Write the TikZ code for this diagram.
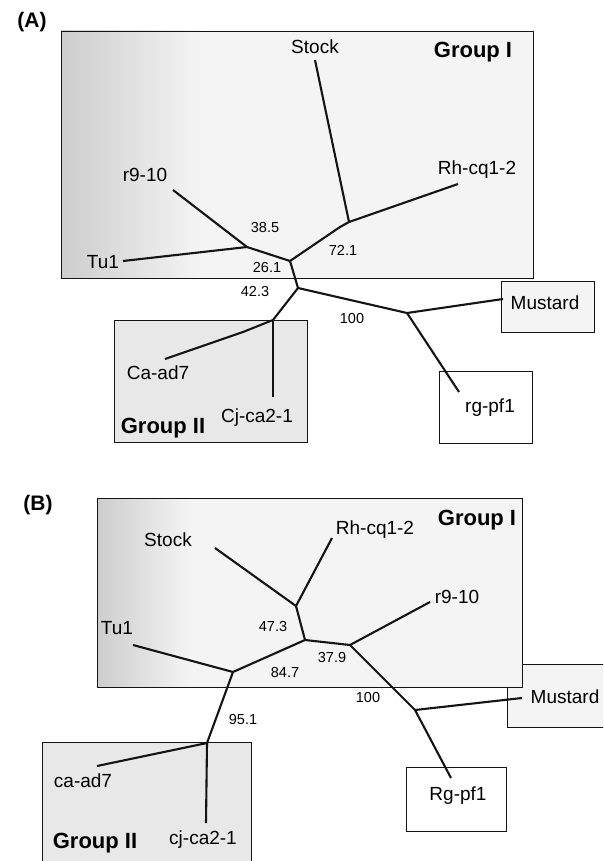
\documentclass[tikz,border=0pt]{standalone}
\usepackage{fontspec}
\setmainfont{Liberation Sans}
\definecolor{treecolor0000}{RGB}{20,20,20}
\definecolor{treecolor0001}{RGB}{232,232,232}
\definecolor{treecolor0002}{RGB}{205,205,205}
\definecolor{treecolor0003}{RGB}{244,244,244}
\begin{document}
\begin{tikzpicture}[yscale=-1
,pstyle0/.style={color=treecolor0000,line width=2.1pt,line join=round}
,pstyle1/.style={draw=treecolor0000,line width=0.9pt}
,pstyle2/.style={draw=treecolor0000,fill=treecolor0001,line width=0.9pt}
,pstyle3/.style={draw=treecolor0000,fill=treecolor0003,line width=0.9pt}
,pstyle4/.style={draw=treecolor0000,fill=white,line width=0.9pt}
,taxon/.style={inner sep=0pt,color=black,font=\fontsize{19}{22}\selectfont}
,support/.style={inner sep=0pt,color=black,font=\fontsize{14.5}{17}\selectfont}
,grouplabel/.style={inner sep=0pt,color=black,font=\fontsize{22}{26}\selectfont\bfseries}
,panel/.style={inner sep=0pt,color=black,font=\fontsize{21}{25}\selectfont\bfseries}
]
\useasboundingbox (0pt,0pt) rectangle (603pt,861pt);
\clip (0pt,0pt) rectangle (603pt,861pt);
% panel A: boxes
\fill[treecolor0003] (61pt,31pt) rectangle (533pt,278pt);
\shade[left color=treecolor0002,right color=treecolor0003] (61pt,31pt) rectangle (200pt,278pt);
\draw[pstyle1] (61pt,31pt) rectangle (533pt,278pt);
\draw[pstyle2] (114pt,320pt) rectangle (307pt,442pt);
\draw[pstyle3] (501pt,281pt) rectangle (594pt,332pt);
\draw[pstyle4] (439pt,371pt) rectangle (532pt,443pt);
\node[panel] (panelA) at (32pt,22pt) {(A)};
\node[grouplabel] (aGroupI) at (473pt,52pt) {Group I};
\node[grouplabel] (aGroupII) at (163pt,428pt) {Group II};
% panel A: tree
\coordinate (an1) at (349pt,222pt);
\coordinate (an1bend) at (340pt,227pt);
\coordinate (an2) at (247pt,247pt);
\coordinate (an3) at (290pt,261pt);
\coordinate (an4) at (298pt,288pt);
\coordinate (an5) at (407pt,313pt);
\coordinate (an6) at (273pt,320pt);
\coordinate (aStockEnd) at (315pt,60pt);
\coordinate (aRhEnd) at (458pt,184pt);
\coordinate (aR9End) at (173pt,190pt);
\coordinate (aTuEnd) at (123pt,261pt);
\coordinate (aMusEnd) at (503pt,299pt);
\coordinate (aRgEnd) at (459pt,392pt);
\coordinate (aCaBend) at (243pt,332pt);
\coordinate (aCaEnd) at (165pt,359pt);
\coordinate (aCjEnd) at (273pt,397pt);
\node[taxon] (aStock) at (315pt,47pt) {Stock};
\node[taxon] (aRh) at (477pt,170pt) {Rh-cq1-2};
\node[taxon] (aR9) at (145pt,175pt) {r9-10};
\node[taxon] (aTu) at (103pt,262pt) {Tu1};
\node[taxon] (aMus) at (545pt,303pt) {Mustard};
\node[taxon] (aRg) at (490pt,408pt) {rg-pf1};
\node[taxon] (aCa) at (158pt,373pt) {Ca-ad7};
\node[taxon] (aCj) at (257pt,418pt) {Cj-ca2-1};
\draw[pstyle0] (aStockEnd) -- (an1);
\draw[pstyle0] (aRhEnd) -- (an1);
\draw[pstyle0] (an1) -- (an1bend) -- (an3);
\draw[pstyle0] (aR9End) -- (an2);
\draw[pstyle0] (aTuEnd) -- (an2);
\draw[pstyle0] (an2) -- (an3);
\draw[pstyle0] (an3) -- (an4);
\draw[pstyle0] (an4) -- (an5);
\draw[pstyle0] (an5) -- (aMusEnd);
\draw[pstyle0] (an5) -- (aRgEnd);
\draw[pstyle0] (an4) -- (an6);
\draw[pstyle0] (an6) -- (aCaBend) -- (aCaEnd);
\draw[pstyle0] (an6) -- (aCjEnd);
\node[support] (aV385) at (265pt,228pt) {38.5};
\node[support] (aV721) at (343pt,250pt) {72.1};
\node[support] (aV261) at (267pt,268pt) {26.1};
\node[support] (aV423) at (255pt,292pt) {42.3};
\node[support] (aV100) at (352pt,319pt) {100};
% panel B: boxes
\draw[pstyle3] (507pt,664pt) rectangle (615pt,727pt);
\fill[treecolor0003] (97pt,498pt) rectangle (522pt,687pt);
\shade[left color=treecolor0002,right color=treecolor0003] (97pt,498pt) rectangle (190pt,687pt);
\draw[pstyle1] (97pt,498pt) rectangle (522pt,687pt);
\draw[pstyle2] (42pt,742pt) rectangle (251pt,875pt);
\draw[pstyle4] (406pt,767pt) rectangle (506pt,831pt);
\node[panel] (panelB) at (38pt,505pt) {(B)};
\node[grouplabel] (bGroupI) at (477pt,520pt) {Group I};
\node[grouplabel] (bGroupII) at (95pt,843pt) {Group II};
% panel B: tree
\coordinate (bn1) at (296pt,606pt);
\coordinate (bn2) at (233pt,672pt);
\coordinate (bn3) at (305pt,640pt);
\coordinate (bn4) at (350pt,645pt);
\coordinate (bn5) at (415pt,710pt);
\coordinate (bn6) at (207pt,743pt);
\coordinate (bStockEnd) at (215pt,548pt);
\coordinate (bRhEnd) at (332pt,538pt);
\coordinate (bTuEnd) at (133pt,645pt);
\coordinate (bR9End) at (430pt,602pt);
\coordinate (bMusEnd) at (522pt,698pt);
\coordinate (bRgEnd) at (451pt,778pt);
\coordinate (bCaEnd) at (97pt,766pt);
\coordinate (bCjEnd) at (206pt,823pt);
\node[taxon] (bStock) at (168pt,540pt) {Stock};
\node[taxon] (bRh) at (375pt,530pt) {Rh-cq1-2};
\node[taxon] (bTu) at (117pt,628pt) {Tu1};
\node[taxon] (bR9) at (457pt,597pt) {r9-10};
\node[taxon] (bMus) at (565pt,697pt) {Mustard};
\node[taxon] (bRg) at (458pt,796pt) {Rg-pf1};
\node[taxon] (bCa) at (83pt,781pt) {ca-ad7};
\node[taxon] (bCj) at (203pt,840pt) {cj-ca2-1};
\draw[pstyle0] (bStockEnd) -- (bn1);
\draw[pstyle0] (bRhEnd) -- (bn1);
\draw[pstyle0] (bn1) -- (bn3);
\draw[pstyle0] (bTuEnd) -- (bn2);
\draw[pstyle0] (bn2) -- (bn3);
\draw[pstyle0] (bn3) -- (bn4);
\draw[pstyle0] (bn4) -- (bR9End);
\draw[pstyle0] (bn4) -- (bn5);
\draw[pstyle0] (bn5) -- (bMusEnd);
\draw[pstyle0] (bn5) -- (bRgEnd);
\draw[pstyle0] (bn2) -- (bn6);
\draw[pstyle0] (bn6) -- (bCaEnd);
\draw[pstyle0] (bn6) -- (bCjEnd);
\node[support] (bV473) at (273pt,627pt) {47.3};
\node[support] (bV379) at (332pt,658pt) {37.9};
\node[support] (bV847) at (285pt,673pt) {84.7};
\node[support] (bV100) at (368pt,697pt) {100};
\node[support] (bV951) at (243pt,719pt) {95.1};
\end{tikzpicture}
\end{document}
